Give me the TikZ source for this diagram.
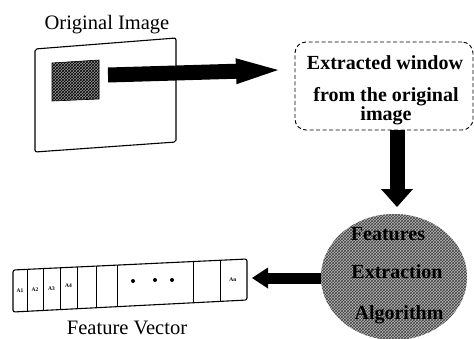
\documentclass[tikz,border=0pt]{standalone}
\usepackage{fontspec}
\setmainfont{Liberation Serif}
\usetikzlibrary{arrows.meta,patterns,calc,shapes.geometric}
\tikzset{
  fatarrow/.style={line width=15pt, -{Triangle[width=26pt,length=42pt,line width=0pt]}},
  downarrow/.style={line width=15pt, -{Triangle[width=32pt,length=18pt,line width=0pt]}},
  smallarrow/.style={line width=11pt, -{Triangle[width=21pt,length=16pt,line width=0pt]}},
  titletext/.style={font=\fontsize{20.5}{24}\selectfont, inner sep=0pt},
  boldtext/.style={font=\fontsize{20}{24}\selectfont\bfseries, inner sep=0pt},
  celllabel/.style={font=\fontsize{5.5}{6}\selectfont\bfseries, inner sep=0pt},
  hatchfill/.style={preaction={fill=gray!55}, pattern=crosshatch, pattern color=black!75},
  darkhatch/.style={preaction={fill=gray!80}, pattern=crosshatch, pattern color=black},
  outline/.style={draw=black, line width=1.1pt, rounded corners=2pt},
}
\begin{document}
\begin{tikzpicture}[x=1pt,y=-1pt]
\useasboundingbox (0,0) rectangle (474,338);

% Original image
\node[titletext] (origlabel) at (107,25) {Original Image};
\draw[outline] (35,49) -- (176,38) -- (176,142) -- (35,152) -- cycle;
\path[darkhatch, draw=black, line width=0.6pt] (52,63) -- (99,60) -- (99,99) -- (52,101) -- cycle;

% Extracted window box
\node[draw=black, dashed, dash pattern=on 4pt off 2.5pt, line width=0.9pt, rounded corners=11pt,
      minimum width=178pt, minimum height=88pt] (win) at (384,86) {};
\node[boldtext] (w1) at (385,63) {Extracted window};
\node[boldtext] (w2) at (386,97) {from the original};
\node[boldtext] (w3) at (386,116) {image};

% Right arrow
\coordinate (rs) at (108,75);
\coordinate (rt) at (278,70);
\draw[fatarrow] (rs) -- (rt);

% Features extraction circle
\node[ellipse, hatchfill, minimum width=146pt, minimum height=126pt, inner sep=0pt] (alg) at (394,277) {};
\node[boldtext] (f1) at (388,234) {Features};
\node[boldtext] (f2) at (397,272) {Extraction};
\node[boldtext] (f3) at (399,315) {Algorithm};

% Down arrow
\coordinate (dt) at (397,207);
\draw[downarrow] (win.south -| dt) -- (dt);

% Feature vector
\coordinate (TL) at (13,270);
\coordinate (TR) at (247,259);
\coordinate (BR) at (247,300);
\coordinate (BL) at (13,312);
\draw[outline] (TL) -- (TR) -- (BR) -- (BL) -- cycle;
\foreach \f in {0.0598,0.1282,0.2009,0.2735,0.3547,0.4444,0.7692,0.8846}
  \draw[line width=0.9pt] ($(TL)!\f!(TR)$) -- ($(BL)!\f!(BR)$);
\node[celllabel] (a1) at (20,290.5) {A1};
\node[celllabel] (a2) at (35,289.5) {A2};
\node[celllabel] (a3) at (51.5,288.5) {A3};
\node[celllabel] (a4) at (68.5,286) {A4};
\node[celllabel] (an) at (233,279.5) {An};
\foreach \x/\y [count=\i] in {133/281,155/280,172/280}
  \fill (\x,\y) circle (2pt);
\node[titletext] (veclabel) at (127,328) {Feature Vector};

% Left arrow
\coordinate (lt) at (252,278);
\draw[smallarrow] (alg.west |- lt) -- (lt);
\end{tikzpicture}
\end{document}
